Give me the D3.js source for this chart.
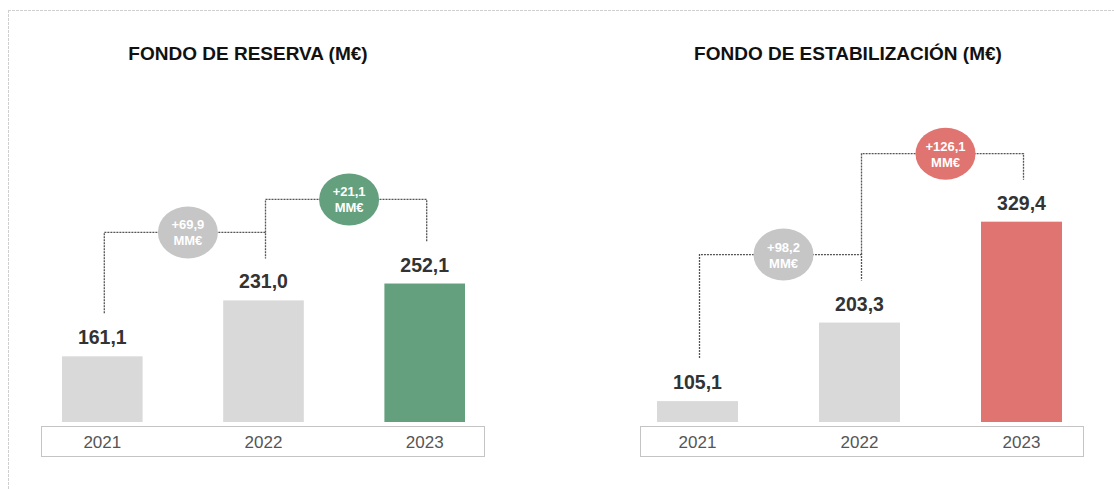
<!DOCTYPE html>
<html>
<head>
<meta charset="utf-8">
<script src="https://cdn.jsdelivr.net/npm/d3@7"></script>
<style>
  body { margin: 0; background: #fff; }
  svg { display: block; font-family: "Liberation Sans", Arial, sans-serif; }
</style>
</head>
<body>
<div id="chart"></div>
<script>
var years = ["2021", "2022", "2023"];
var titles = ["FONDO DE RESERVA (M€)", "FONDO DE ESTABILIZACIÓN (M€)"];
var reservaValues = [161.1, 231.0, 252.1];
var estabilizacionValues = [105.1, 203.3, 329.4];
var reservaDeltas = ["+69,9", "+21,1"];
var estabilizacionDeltas = ["+98,2", "+126,1"];
var deltaUnit = "MM€";

var width = 1114, height = 489;

var svg = d3.select("#chart").append("svg")
  .attr("width", width)
  .attr("height", height);

// page frame (dashed, only top and left visible)
svg.append("line").attr("x1", 8).attr("x2", width).attr("y1", 10.5).attr("y2", 10.5)
  .attr("stroke", "#cfcfcf").attr("stroke-dasharray", "3,1");
svg.append("line").attr("x1", 8.5).attr("x2", 8.5).attr("y1", 10).attr("y2", height)
  .attr("stroke", "#cfcfcf").attr("stroke-dasharray", "3,1");

// shared value scale (axis does not start at zero)
var y = d3.scaleLinear().domain([79, 400]).range([422, 165.2]);

var fmt = function(v) { return d3.format(".1f")(v).replace(".", ","); };

function drawPanel(opt) {
  var g = svg.append("g");
  var x = d3.scaleBand().domain(years).range(opt.range).paddingInner(0.5).paddingOuter(0);
  var bw = x.bandwidth();

  g.append("text")
    .attr("x", opt.titleX).attr("y", 60)
    .attr("text-anchor", "middle")
    .attr("font-size", 19).attr("font-weight", "bold")
    .attr("fill", "#111")
    .text(opt.title);

  // axis box
  g.append("rect")
    .attr("x", opt.box[0] + 0.5).attr("y", 426.5)
    .attr("width", opt.box[1] - opt.box[0]).attr("height", 30)
    .attr("fill", "none").attr("stroke", "#c4c4c4");

  g.selectAll(".yr").data(years).enter().append("text")
    .attr("x", function(d) { return x(d) + bw / 2; })
    .attr("y", 448)
    .attr("text-anchor", "middle")
    .attr("font-size", 17).attr("fill", "#555")
    .text(function(d) { return d; });

  g.selectAll(".bar").data(opt.values).enter().append("rect")
    .attr("x", function(d, i) { return x(years[i]); })
    .attr("y", function(d) { return y(d); })
    .attr("width", bw)
    .attr("height", function(d) { return y.range()[0] - y(d); })
    .attr("fill", function(d, i) { return i == 2 ? opt.color : "#d9d9d9"; });

  g.selectAll(".val").data(opt.values).enter().append("text")
    .attr("x", function(d, i) { return x(years[i]) + bw / 2; })
    .attr("y", function(d) { return y(d) - 12; })
    .attr("text-anchor", "middle")
    .attr("font-size", 19.5).attr("font-weight", "bold")
    .attr("fill", "#333")
    .text(function(d) { return fmt(d); });

  // brackets between consecutive years
  var prevLevel = Infinity;
  opt.deltas.forEach(function(label, i) {
    var x1 = x(years[i]) + bw / 2 + 2;
    var x2 = x(years[i + 1]) + bw / 2 + 2;
    var level = Math.min(y(opt.values[i + 1]) - 68, prevLevel - 33);
    var start = i == 0 ? y(opt.values[i]) - 43 : prevLevel;
    var end = y(opt.values[i + 1]) - 42;
    prevLevel = level;

    g.append("path")
      .attr("d", "M" + x1 + "," + start + "V" + level + "H" + x2 + "V" + end)
      .attr("fill", "none")
      .attr("stroke", "#555")
      .attr("stroke-width", 1.3)
      .attr("stroke-dasharray", "2,1");

    var cx = (x1 + x2) / 2 + 3;
    var fill = i == 1 ? opt.color : "#c6c6c6";
    g.append("ellipse")
      .attr("cx", cx).attr("cy", level)
      .attr("rx", 30).attr("ry", 26)
      .attr("fill", fill);
    g.append("text")
      .attr("x", cx).attr("y", level - 3)
      .attr("text-anchor", "middle")
      .attr("font-size", 13).attr("font-weight", "bold")
      .attr("fill", "#fff")
      .text(label);
    g.append("text")
      .attr("x", cx).attr("y", level + 13)
      .attr("text-anchor", "middle")
      .attr("font-size", 13).attr("font-weight", "bold")
      .attr("fill", "#fff")
      .text(deltaUnit);
  });
}

drawPanel({
  title: titles[0], titleX: 248, range: [62, 465], box: [41, 484],
  values: reservaValues, deltas: reservaDeltas, color: "#64a07e"
});
drawPanel({
  title: titles[1], titleX: 848, range: [657, 1062], box: [640, 1083],
  values: estabilizacionValues, deltas: estabilizacionDeltas, color: "#e07470"
});
</script>
</body>
</html>
